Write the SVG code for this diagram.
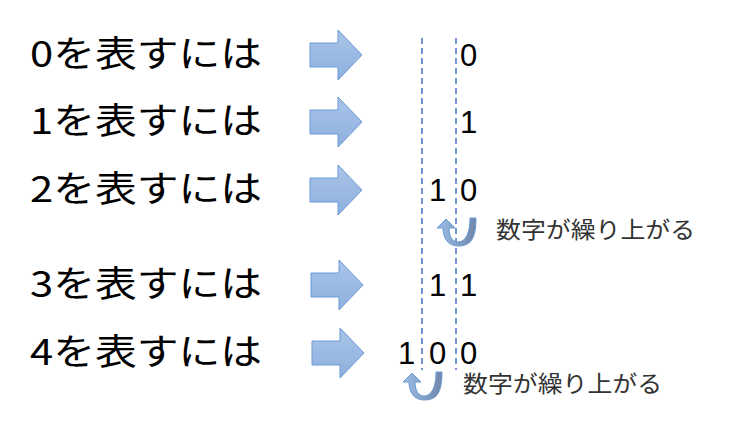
<svg xmlns="http://www.w3.org/2000/svg" width="730" height="427" viewBox="0 0 730 427">
<defs>
<linearGradient id="g" x1="0" y1="0" x2="0" y2="1"><stop offset="0" stop-color="#a9c4e8"/><stop offset="1" stop-color="#8eb0de"/></linearGradient>
<linearGradient id="c" x1="0" y1="0" x2="1" y2="0"><stop offset="0" stop-color="#9dbde6"/><stop offset="1" stop-color="#6f86a8"/></linearGradient>
<path id="arr" d="M0,-12 H28 V-25 L52,0 L28,25 V12 H0 Z" fill="url(#g)" stroke="#6a9bd6" stroke-width="1"/>
<path id="turn" d="M36,0 C36,22 30,28 18,28 C8,28 3,20 3,10 L-3,10 L6,1 L15,10 L9,10 C9,19 13,24 18,24 C26,24 30,14 30,0 Z" fill="url(#c)" stroke="#6a9bd6" stroke-width="1"/>
</defs>
<style>.t{font-family:"Noto Sans CJK JP","Liberation Sans",sans-serif;font-size:36px;fill:#000}.d{font-family:"Liberation Sans",sans-serif;font-size:31px;fill:#000}.s{font-family:"Noto Sans CJK JP",sans-serif;font-size:23px;fill:#333}.dash{stroke:#4472c4;stroke-width:1.5;stroke-dasharray:6,4}</style>
<g id="labels">
<text class="t" x="30" y="67" textLength="232" lengthAdjust="spacingAndGlyphs">0を表すには</text>
<text class="t" x="30" y="134" textLength="232" lengthAdjust="spacingAndGlyphs">1を表すには</text>
<text class="t" x="30" y="202" textLength="232" lengthAdjust="spacingAndGlyphs">2を表すには</text>
<text class="t" x="30" y="297" textLength="232" lengthAdjust="spacingAndGlyphs">3を表すには</text>
<text class="t" x="30" y="365" textLength="232" lengthAdjust="spacingAndGlyphs">4を表すには</text>
</g>
<g id="arrows">
<use href="#arr" x="310" y="55"/>
<use href="#arr" x="310" y="122"/>
<use href="#arr" x="310" y="190"/>
<use href="#arr" x="311" y="285"/>
<use href="#arr" x="312" y="353"/>
</g>
<g id="connectors">
<line class="dash" x1="422" y1="38" x2="422" y2="370"/>
<line class="dash" x1="456" y1="38" x2="456" y2="370"/>
</g>
<g id="digits">
<text class="d" x="460" y="66">0</text>
<text class="d" x="460" y="133">1</text>
<text class="d" x="429" y="201">1</text><text class="d" x="460" y="201">0</text>
<text class="d" x="429" y="296">1</text><text class="d" x="460" y="296">1</text>
<text class="d" x="398" y="364">1</text><text class="d" x="429" y="364">0</text><text class="d" x="460" y="364">0</text>
</g>
<g id="carry1"><use href="#turn" x="440" y="218"/><text class="s" x="496" y="238" textLength="199" lengthAdjust="spacingAndGlyphs">数字が繰り上がる</text></g>
<g id="carry2"><use href="#turn" x="406" y="372"/><text class="s" x="463" y="392" textLength="199" lengthAdjust="spacingAndGlyphs">数字が繰り上がる</text></g>
</svg>
